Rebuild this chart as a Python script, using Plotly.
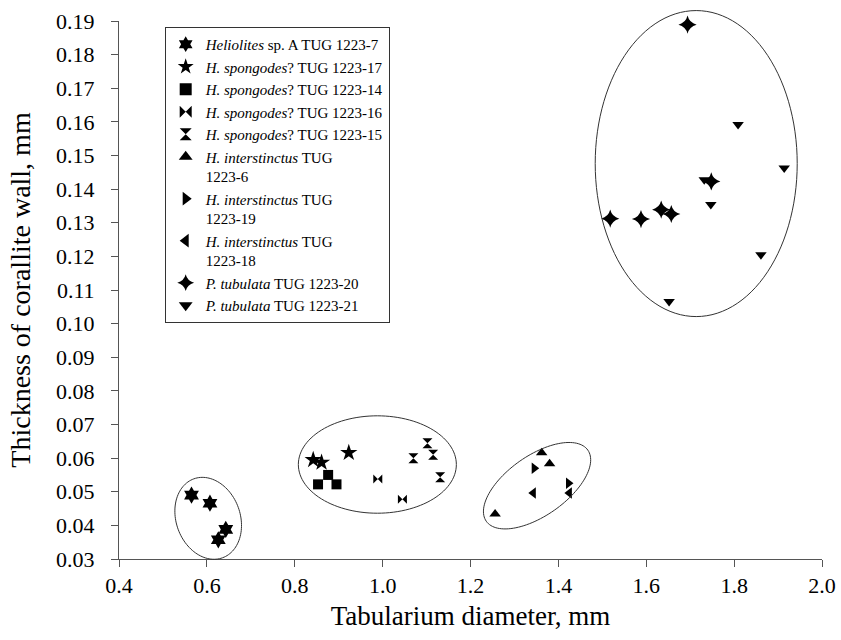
import numpy as np
import plotly.graph_objects as go

# ---- data ----
names = [
    "<i>Heliolites</i> sp. A TUG 1223-7",
    "<i>H. spongodes</i>? TUG 1223-17",
    "<i>H. spongodes</i>? TUG 1223-14",
    "<i>H. spongodes</i>? TUG 1223-16",
    "<i>H. spongodes</i>? TUG 1223-15",
    "<i>H. interstinctus</i> TUG<br>1223-6",
    "<i>H. interstinctus</i> TUG<br>1223-19",
    "<i>H. interstinctus</i> TUG<br>1223-18",
    "<i>P. tubulata</i> TUG 1223-20",
    "<i>P. tubulata</i> TUG 1223-21",
]
x_helio_7 = [0.565, 0.607, 0.643, 0.626]
y_helio_7 = [0.0490, 0.0466, 0.0388, 0.0357]
x_spon_17 = [0.842, 0.861, 0.923]
y_spon_17 = [0.0595, 0.0587, 0.0616]
x_spon_14 = [0.853, 0.876, 0.895]
y_spon_14 = [0.0522, 0.0550, 0.0522]
x_spon_16 = [0.989, 1.045]
y_spon_16 = [0.0538, 0.0478]
x_spon_15 = [1.070, 1.102, 1.115, 1.131]
y_spon_15 = [0.0600, 0.0644, 0.0610, 0.0543]
x_inter_6 = [1.362, 1.380, 1.256]
y_inter_6 = [0.0616, 0.0583, 0.0434]
x_inter_19 = [1.345, 1.423]
y_inter_19 = [0.0570, 0.0525]
x_inter_18 = [1.343, 1.425]
y_inter_18 = [0.0496, 0.0496]
x_tub_20 = [1.694, 1.518, 1.588, 1.634, 1.657, 1.748]
y_tub_20 = [0.1889, 0.1312, 0.1311, 0.1339, 0.1326, 0.1423]
x_tub_21 = [1.809, 1.914, 1.732, 1.747, 1.861, 1.652]
y_tub_21 = [0.1592, 0.1463, 0.1428, 0.1354, 0.1205, 0.1066]

xs = [x_helio_7, x_spon_17, x_spon_14, x_spon_16, x_spon_15,
      x_inter_6, x_inter_19, x_inter_18, x_tub_20, x_tub_21]
ys = [y_helio_7, y_spon_17, y_spon_14, y_spon_16, y_spon_15,
      y_inter_6, y_inter_19, y_inter_18, y_tub_20, y_tub_21]
symbols = ["hexagram", "star", "square", "bowtie", "hourglass",
           "triangle-up", "triangle-right", "triangle-left",
           "star-diamond", "triangle-down"]
sizes = [13, 13, 10, 9, 10, 10, 10, 10, 13, 10]

XR = [0.4, 2.0]
YR = [0.03, 0.19]

# group ellipses: centre (data), semi-axes (px), rotation (deg)
ellipses = [
    (0.603, 0.0421, 32, 42, 20),
    (0.988, 0.0581, 79, 48.7, 0),
    (1.3515, 0.0518, 62, 30, 35),
    (1.7137, 0.1476, 101, 153, 0),
]

fig = go.Figure()
for n, x, y, s, sz in zip(names, xs, ys, symbols, sizes):
    fig.add_trace(go.Scatter(
        x=x, y=y, mode="markers", name=n, cliponaxis=False,
        marker=dict(symbol=s, size=sz, color="black", line=dict(width=0)),
    ))

L, R, T, B = 119, 19, 21, 81
W, H = 841, 640
pw, ph = W - L - R, H - T - B
sx = pw / (XR[1] - XR[0])
sy = ph / (YR[1] - YR[0])

shapes = []
t = np.linspace(0, 2 * np.pi, 121)
for cx, cy, a, b, rot in ellipses:
    th = np.deg2rad(rot)
    u = a * np.cos(t)
    v = b * np.sin(t)
    ur = u * np.cos(th) - v * np.sin(th)
    vr = u * np.sin(th) + v * np.cos(th)
    xd = cx + ur / sx
    yd = cy + vr / sy
    px = (xd - XR[0]) / (XR[1] - XR[0])
    py = (yd - YR[0]) / (YR[1] - YR[0])
    path = "M " + " L ".join(f"{p:.5f},{q:.5f}" for p, q in zip(px, py)) + " Z"
    shapes.append(dict(type="path", path=path, xref="paper", yref="paper",
                       line=dict(color="#333333", width=1), layer="above"))

font_family = "Liberation Serif, Times New Roman, serif"
axis_common = dict(showgrid=False, zeroline=False, showline=True,
                   linecolor="#555555", linewidth=1, ticks="outside",
                   ticklen=7, tickcolor="#555555", mirror=False,
                   ticklabeloverflow="allow", automargin=False,
                   tickfont=dict(family=font_family, size=22, color="black"))

fig.update_layout(
    width=W, height=H,
    margin=dict(l=L, r=R, t=T, b=B, autoexpand=False),
    paper_bgcolor="white", plot_bgcolor="white",
    font=dict(family=font_family, color="black"),
    shapes=shapes,
    xaxis=dict(range=XR, dtick=0.2, tick0=0.4, tickformat=".1f",
               ticklabelstandoff=0,
               title=dict(text="Tabularium diameter, mm",
                          font=dict(family=font_family, size=27), standoff=8),
               **axis_common),
    yaxis=dict(range=YR, dtick=0.01, tick0=0.03, tickformat=".2f",
               ticklabelstandoff=12,
               title=dict(text="Thickness of corallite wall, mm",
                          font=dict(family=font_family, size=28), standoff=17),
               **axis_common),
    legend=dict(x=0.065, y=0.989, xanchor="left", yanchor="top",
                bordercolor="#333333", borderwidth=1, bgcolor="white",
                font=dict(family=font_family, size=15, color="black"),
                valign="top", itemwidth=30, tracegroupgap=0,
                itemsizing="constant"),
    showlegend=True,
)

fig.write_html(
    "out.html",
    config={"displayModeBar": False},
    post_script="document.body.style.margin='0';document.body.style.overflow='hidden';",
)
